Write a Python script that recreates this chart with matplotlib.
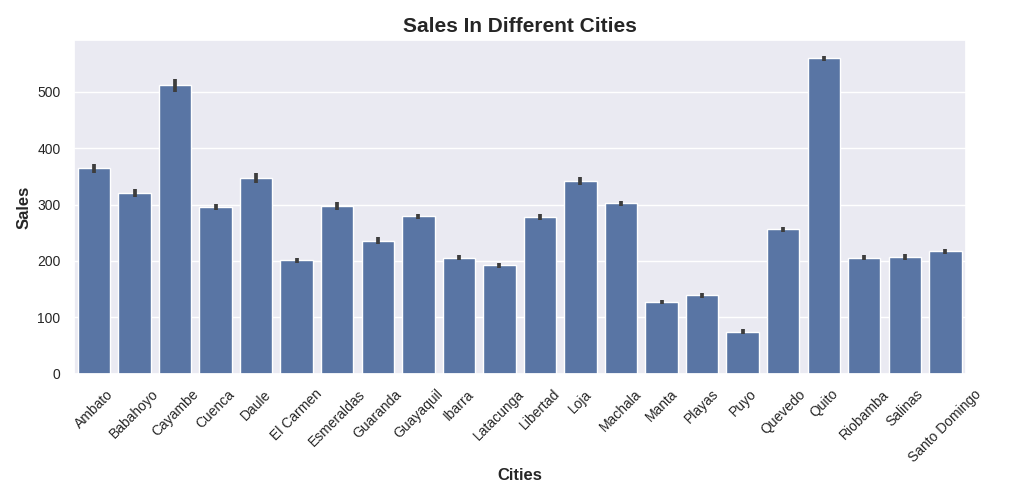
import matplotlib
matplotlib.use("Agg")
import matplotlib.pyplot as plt
import seaborn as sns

cities = ["Ambato", "Babahoyo", "Cayambe", "Cuenca", "Daule", "El Carmen",
          "Esmeraldas", "Guaranda", "Guayaquil", "Ibarra", "Latacunga", "Libertad",
          "Loja", "Machala", "Manta", "Playas", "Puyo", "Quevedo", "Quito",
          "Riobamba", "Salinas", "Santo Domingo"]
sales = [364, 321, 511, 296, 347, 201, 297, 236, 279, 206, 192, 278,
         341, 302, 127, 139, 75, 256, 559, 206, 207, 217]
ci_half = [8, 7, 12, 5, 8, 5, 7, 6, 4, 5, 4, 6, 7, 5, 4, 5, 4, 5, 4, 5, 5, 4]

sns.set_theme(style="darkgrid")
plt.rcParams["font.family"] = ["Liberation Sans", "DejaVu Sans"]
fig = plt.figure(figsize=(10.24, 4.9), dpi=100)
ax = fig.add_axes([0.072, 0.237, 0.871, 0.681])
x = range(len(cities))
ax.bar(x, sales, width=0.8, color="#5975a4")
ax.errorbar(x, sales, yerr=ci_half, fmt="none", ecolor="#3d3d3d", elinewidth=2.7, capsize=0)
ax.grid(axis="x", visible=False)
ax.set_xlim(-0.5, len(cities) - 0.5)
ax.set_xticks(list(x))
ax.set_xticklabels(cities, rotation=45, fontsize=10)
ax.set_yticks([0, 100, 200, 300, 400, 500])
ax.tick_params(axis="y", labelsize=10)
ax.set_title("Sales In Different Cities", fontsize=15, fontweight="bold")
ax.set_xlabel("Cities", fontsize=12, fontweight="bold", labelpad=2)
ax.set_ylabel("Sales", fontsize=12, fontweight="bold")
fig.savefig("out.png", dpi=100)
